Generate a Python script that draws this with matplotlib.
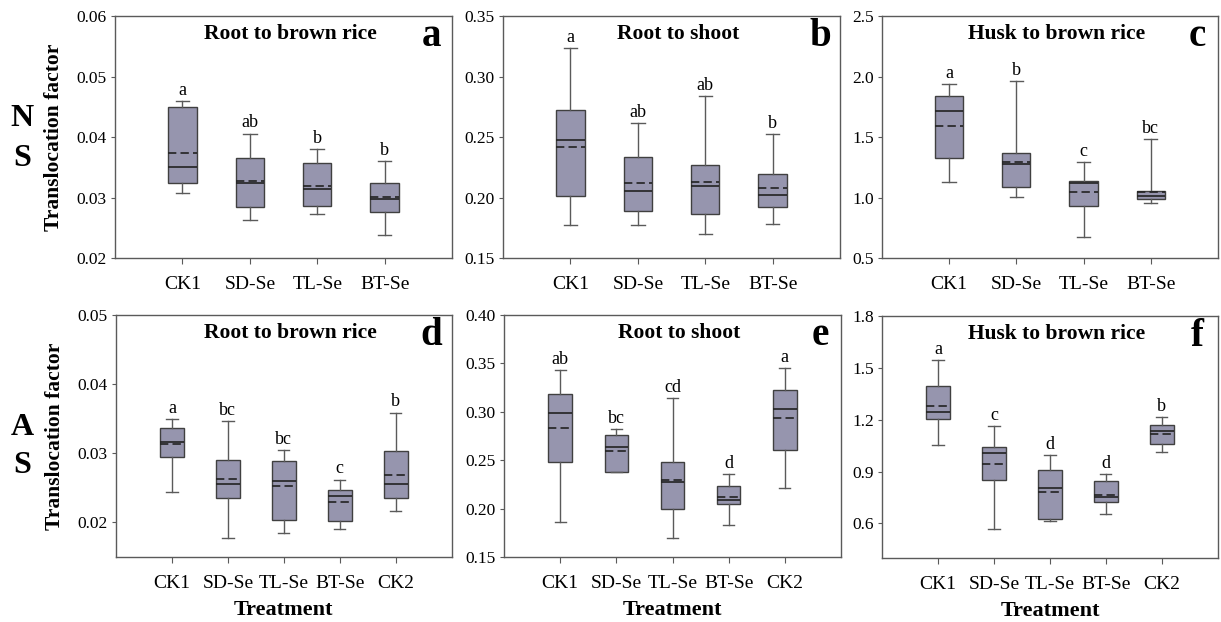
import matplotlib
matplotlib.use("Agg")
import matplotlib.pyplot as plt

plt.rcParams['font.family'] = ['Liberation Serif', 'DejaVu Serif']

# treatments
groups4 = ['CK1', 'SD-Se', 'TL-Se', 'BT-Se']
groups5 = ['CK1', 'SD-Se', 'TL-Se', 'BT-Se', 'CK2']

# panel a - NS root to brown rice
a_lo   = [0.0308, 0.0263, 0.0273, 0.0238]
a_q1   = [0.0324, 0.0285, 0.0287, 0.0276]
a_med  = [0.0350, 0.0324, 0.0314, 0.0298]
a_mean = [0.0374, 0.0327, 0.0320, 0.0301]
a_q3   = [0.0450, 0.0366, 0.0358, 0.0324]
a_hi   = [0.0459, 0.0406, 0.0381, 0.0361]
a_sig  = ['a', 'ab', 'b', 'b']

# panel b - NS root to shoot
b_lo   = [0.1776, 0.1776, 0.1696, 0.1781]
b_q1   = [0.2016, 0.1889, 0.1867, 0.1922]
b_med  = [0.2479, 0.2054, 0.2099, 0.2024]
b_mean = [0.2416, 0.2118, 0.2129, 0.2077]
b_q3   = [0.2722, 0.2339, 0.2267, 0.2192]
b_hi   = [0.3238, 0.2620, 0.2843, 0.2529]
b_sig  = ['a', 'ab', 'ab', 'b']

# panel c - NS husk to brown rice
c_lo   = [1.133, 1.003, 0.676, 0.957]
c_q1   = [1.328, 1.091, 0.932, 0.985]
c_med  = [1.719, 1.276, 1.119, 1.015]
c_mean = [1.592, 1.292, 1.050, 1.048]
c_q3   = [1.843, 1.372, 1.136, 1.055]
c_hi   = [1.942, 1.964, 1.298, 1.485]
c_sig  = ['a', 'b', 'c', 'bc']

# panel d - AS root to brown rice
d_lo   = [0.0244, 0.0178, 0.0185, 0.0191, 0.0217]
d_q1   = [0.0295, 0.0235, 0.0204, 0.0202, 0.0235]
d_med  = [0.0316, 0.0255, 0.0260, 0.0238, 0.0256]
d_mean = [0.0313, 0.0263, 0.0252, 0.0229, 0.0269]
d_q3   = [0.0336, 0.0291, 0.0289, 0.0247, 0.0303]
d_hi   = [0.0350, 0.0347, 0.0305, 0.0262, 0.0359]
d_sig  = ['a', 'bc', 'bc', 'c', 'b']

# panel e - AS root to shoot
e_lo   = [0.1859, 0.2379, 0.1693, 0.1834, 0.2214]
e_q1   = [0.2486, 0.2383, 0.1997, 0.2052, 0.2610]
e_med  = [0.2990, 0.2638, 0.2272, 0.2086, 0.3028]
e_mean = [0.2838, 0.2593, 0.2293, 0.2121, 0.2934]
e_q3   = [0.3186, 0.2762, 0.2486, 0.2238, 0.3228]
e_hi   = [0.3434, 0.2821, 0.3145, 0.2359, 0.3455]
e_sig  = ['ab', 'bc', 'cd', 'd', 'a']

# panel f - AS husk to brown rice
f_lo   = [1.053, 0.569, 0.615, 0.656, 1.011]
f_q1   = [1.203, 0.852, 0.627, 0.723, 1.059]
f_med  = [1.247, 1.005, 0.807, 0.752, 1.136]
f_mean = [1.282, 0.942, 0.782, 0.767, 1.117]
f_q3   = [1.395, 1.044, 0.909, 0.846, 1.172]
f_hi   = [1.547, 1.165, 0.998, 0.884, 1.216]
f_sig  = ['a', 'c', 'd', 'd', 'b']

panels = [
    ('a', 'Root to brown rice', groups4, a_lo, a_q1, a_med, a_mean, a_q3, a_hi, a_sig,
     (0.02, 0.06), [0.02, 0.03, 0.04, 0.05, 0.06], '%.2f'),
    ('b', 'Root to shoot', groups4, b_lo, b_q1, b_med, b_mean, b_q3, b_hi, b_sig,
     (0.15, 0.35), [0.15, 0.20, 0.25, 0.30, 0.35], '%.2f'),
    ('c', 'Husk to brown rice', groups4, c_lo, c_q1, c_med, c_mean, c_q3, c_hi, c_sig,
     (0.5, 2.5), [0.5, 1.0, 1.5, 2.0, 2.5], '%.1f'),
    ('d', 'Root to brown rice', groups5, d_lo, d_q1, d_med, d_mean, d_q3, d_hi, d_sig,
     (0.015, 0.05), [0.02, 0.03, 0.04, 0.05], '%.2f'),
    ('e', 'Root to shoot', groups5, e_lo, e_q1, e_med, e_mean, e_q3, e_hi, e_sig,
     (0.15, 0.40), [0.15, 0.20, 0.25, 0.30, 0.35, 0.40], '%.2f'),
    ('f', 'Husk to brown rice', groups5, f_lo, f_q1, f_med, f_mean, f_q3, f_hi, f_sig,
     (0.4, 1.8), [0.6, 0.9, 1.2, 1.5, 1.8], '%.1f'),
]

# axes rectangles in figure fractions [left, bottom, width, height]
rects = [
    [0.0942, 0.585, 0.276, 0.389],
    [0.4120, 0.585, 0.276, 0.389],
    [0.7224, 0.585, 0.275, 0.389],
    [0.0950, 0.1045, 0.275, 0.389],
    [0.4128, 0.1045, 0.276, 0.389],
    [0.7224, 0.1030, 0.275, 0.389],
]

box_face = '#9695ae'
edge = '#404040'
grey = '#5a5a5a'

fig = plt.figure(figsize=(12.21, 6.22), dpi=100)

for i, (tag, title, cats, lo, q1, med, mean, q3, hi, sig, ylim, yt, fmt) in enumerate(panels):
    ax = fig.add_axes(rects[i])
    stats = []
    for k in range(len(cats)):
        stats.append({'whislo': lo[k], 'q1': q1[k], 'med': med[k], 'mean': mean[k],
                      'q3': q3[k], 'whishi': hi[k], 'fliers': [], 'label': cats[k]})
    pos = list(range(1, len(cats) + 1))
    ax.bxp(stats, positions=pos, widths=0.42, patch_artist=True,
           showmeans=True, meanline=True, showfliers=False,
           boxprops=dict(facecolor=box_face, edgecolor=edge, linewidth=1.0),
           whiskerprops=dict(color=grey, linewidth=1.0),
           capprops=dict(color=grey, linewidth=1.0),
           medianprops=dict(color='#222222', linewidth=1.2),
           meanprops=dict(color='#222222', linewidth=1.2, linestyle=(0, (5, 2.5))),
           capwidths=0.2)
    for k in range(len(cats)):
        ax.annotate(sig[k], (pos[k], hi[k]), xytext=(0, 1.5), textcoords='offset points',
                    ha='center', va='bottom', fontsize=13)
    ax.set_xlim(0, len(cats) + 1)
    ax.set_ylim(*ylim)
    ax.set_yticks(yt)
    ax.set_yticklabels([fmt % v for v in yt], fontsize=12.5)
    ax.set_xticks(pos)
    ax.set_xticklabels(cats, fontsize=14)
    ax.tick_params(axis='x', length=4, color=grey, pad=9)
    ax.tick_params(axis='y', length=3, color=grey, pad=3)
    for s in ax.spines.values():
        s.set_color(grey)
        s.set_linewidth(1.0)
    ax.text(0.52, 0.925, title, transform=ax.transAxes, ha='center', va='center',
            fontsize=15.5, fontweight='bold')
    ax.text(0.94, 0.915, tag, transform=ax.transAxes, ha='center', va='center',
            fontsize=28, fontweight='bold')
    if i % 3 == 0:
        ax.set_ylabel('Translocation factor', fontsize=15.5, fontweight='bold', labelpad=9)
    if i >= 3:
        ax.set_xlabel('Treatment', fontsize=16, fontweight='bold', labelpad=6)

# side labels for the soil groups
fig.text(0.018, 0.81, 'N', fontsize=23, fontweight='bold', ha='center', va='center')
fig.text(0.018, 0.745, 'S', fontsize=23, fontweight='bold', ha='center', va='center')
fig.text(0.018, 0.312, 'A', fontsize=23, fontweight='bold', ha='center', va='center')
fig.text(0.018, 0.252, 'S', fontsize=23, fontweight='bold', ha='center', va='center')

fig.savefig('out.png', dpi=100)
